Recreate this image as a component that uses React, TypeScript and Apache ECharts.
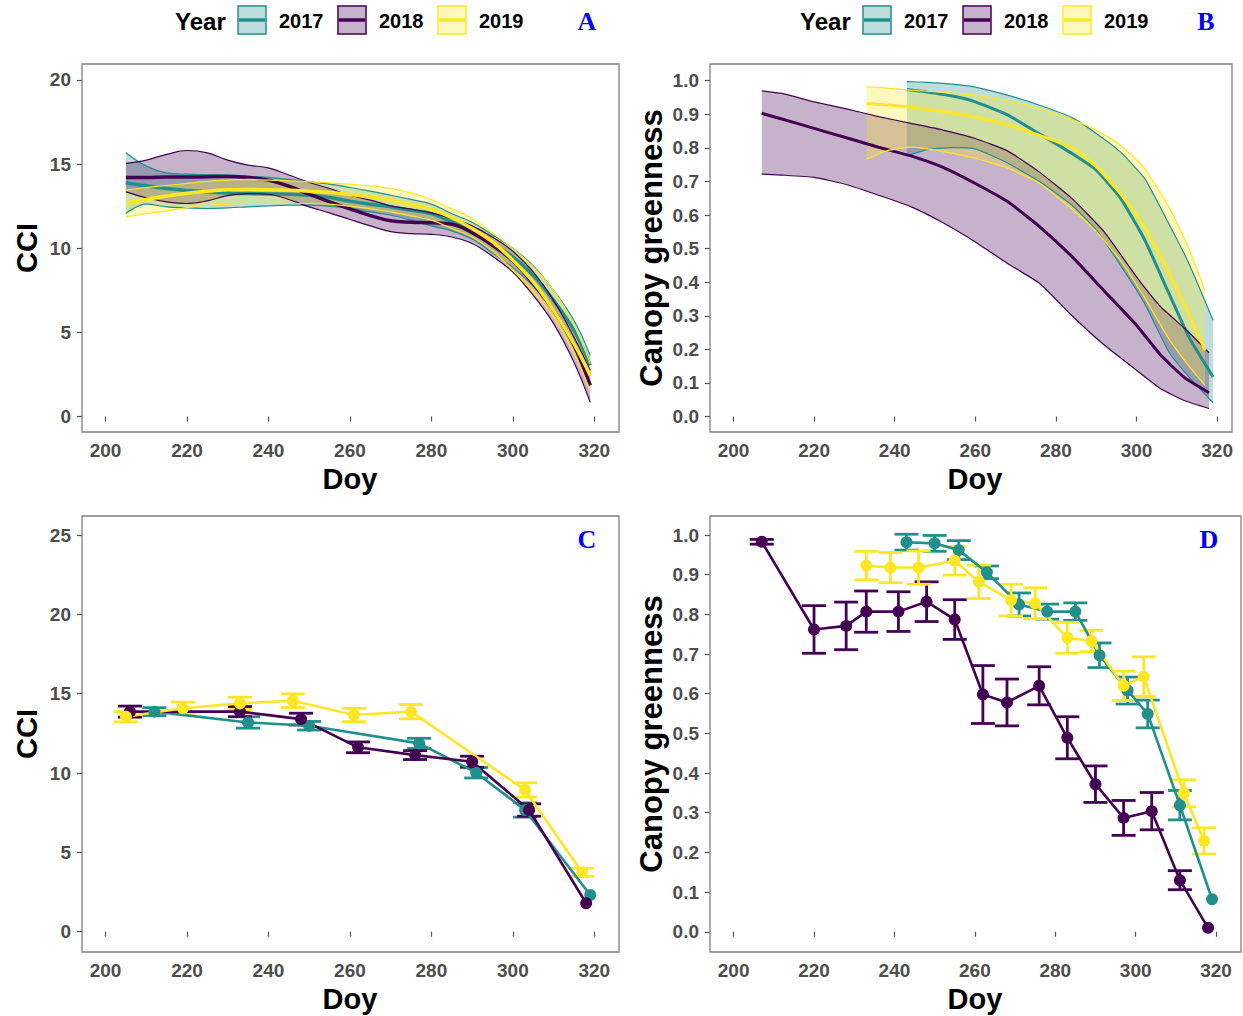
import React, { useEffect, useRef } from "react";
import * as echarts from "echarts";

const YEARS = ["2017", "2018", "2019"];
const COLORS = ["#21908C", "#440154", "#FDE725"];

// ---------- Panel A: smoothed CCI (mean, upper, lower) ----------
const aDoy = [205, 210, 215, 220, 225, 230, 235, 240, 245, 250, 255, 260, 265, 270, 275, 280, 285, 290, 295, 300, 305, 310, 315, 319];
const aMean2017 = [13.89, 13.71, 13.55, 13.43, 13.35, 13.29, 13.25, 13.23, 13.21, 13.15, 13.02, 12.8, 12.62, 12.46, 12.26, 12.06, 11.57, 11.07, 10.28, 9.48, 8.39, 6.9, 5.12, 3.04];
const aUp2017 = [15.67, 14.88, 14.48, 14.4, 14.37, 14.35, 14.29, 14.21, 14.09, 13.95, 13.81, 13.61, 13.39, 13.15, 12.9, 12.62, 12.05, 11.55, 10.8, 10.0, 8.95, 7.5, 5.72, 3.63];
const aLo2017 = [12.06, 12.62, 12.46, 12.4, 12.36, 12.4, 12.46, 12.52, 12.56, 12.56, 12.5, 12.38, 12.16, 11.96, 11.67, 11.33, 11.03, 10.55, 9.72, 8.85, 7.75, 6.25, 4.45, 2.4];
const aMean2018 = [14.21, 14.21, 14.23, 14.23, 14.25, 14.27, 14.21, 14.05, 13.69, 13.21, 12.76, 12.34, 11.94, 11.63, 11.55, 11.51, 11.43, 10.93, 10.18, 9.25, 7.9, 6.31, 4.23, 1.85];
const aUp2018 = [15.04, 15.24, 15.58, 15.81, 15.67, 15.24, 14.94, 14.78, 14.35, 13.91, 13.55, 13.15, 12.86, 12.52, 12.32, 12.1, 11.77, 11.33, 10.67, 9.82, 8.59, 6.9, 4.72, 2.74];
const aLo2018 = [13.35, 13.0, 12.76, 12.66, 12.82, 13.13, 13.25, 13.21, 12.9, 12.46, 12.1, 11.71, 11.33, 10.99, 10.87, 10.83, 10.67, 10.28, 9.52, 8.59, 7.2, 5.52, 3.23, 0.85];
const aMean2019 = [12.66, 12.9, 13.1, 13.27, 13.39, 13.47, 13.49, 13.47, 13.45, 13.39, 13.31, 13.19, 13.06, 12.86, 12.6, 12.32, 11.83, 11.17, 10.38, 9.29, 8.0, 6.31, 4.33, 2.44];
const aUp2019 = [13.45, 13.61, 13.73, 13.85, 13.97, 14.05, 14.09, 14.05, 14.01, 13.95, 13.89, 13.81, 13.71, 13.55, 13.29, 12.9, 12.34, 11.77, 10.91, 9.98, 8.89, 7.5, 5.42, 3.13];
const aLo2019 = [11.87, 12.06, 12.22, 12.42, 12.54, 12.62, 12.66, 12.66, 12.66, 12.66, 12.62, 12.5, 12.34, 12.16, 11.92, 11.67, 11.17, 10.67, 9.84, 8.69, 7.4, 5.91, 3.73, 1.55];

// ---------- Panel B: smoothed canopy greenness ----------
const bDoy2017 = [243, 248, 254, 260, 268, 276, 284, 290, 296, 302, 308, 313, 319];
const bMean2017 = [0.974, 0.966, 0.955, 0.937, 0.898, 0.841, 0.783, 0.734, 0.651, 0.527, 0.368, 0.237, 0.118];
const bUp2017 = [0.997, 0.995, 0.99, 0.981, 0.957, 0.927, 0.89, 0.843, 0.788, 0.709, 0.575, 0.456, 0.287];
const bLo2017 = [0.776, 0.795, 0.801, 0.797, 0.755, 0.699, 0.629, 0.556, 0.451, 0.337, 0.193, 0.118, 0.041];
const bDoy2018 = [207, 212, 220, 228, 236, 244, 252, 260, 268, 276, 284, 292, 300, 306, 312, 318];
const bMean2018 = [0.903, 0.886, 0.858, 0.83, 0.802, 0.776, 0.742, 0.694, 0.64, 0.565, 0.476, 0.374, 0.272, 0.183, 0.115, 0.071];
const bUp2018 = [0.97, 0.962, 0.937, 0.916, 0.893, 0.873, 0.853, 0.828, 0.791, 0.727, 0.649, 0.55, 0.416, 0.327, 0.262, 0.19];
const bLo2018 = [0.722, 0.719, 0.712, 0.691, 0.659, 0.625, 0.577, 0.52, 0.456, 0.396, 0.3, 0.213, 0.138, 0.083, 0.047, 0.024];
const bDoy2019 = [233, 238, 244, 252, 260, 268, 276, 284, 290, 296, 302, 308, 313, 317];
const bMean2019 = [0.932, 0.928, 0.921, 0.908, 0.891, 0.868, 0.837, 0.801, 0.744, 0.664, 0.563, 0.428, 0.304, 0.198];
const bUp2019 = [0.982, 0.978, 0.972, 0.965, 0.957, 0.94, 0.916, 0.884, 0.853, 0.808, 0.739, 0.625, 0.5, 0.376];
const bLo2019 = [0.766, 0.791, 0.802, 0.789, 0.769, 0.74, 0.694, 0.617, 0.551, 0.465, 0.354, 0.232, 0.15, 0.093];

// ---------- Panel C: CCI means and SE ----------
const cDoy2017 = [212, 235, 250, 277, 291, 303, 319];
const cVal2017 = [13.87, 13.19, 12.98, 11.87, 10.02, 7.67, 2.31];
const cSe2017 = [0.25, 0.36, 0.27, 0.32, 0.33, 0.45, 0];
const cDoy2018 = [206, 233, 248, 262, 276, 290, 304, 318];
const cVal2018 = [13.87, 13.87, 13.4, 11.62, 11.13, 10.71, 7.67, 1.79];
const cSe2018 = [0.35, 0.32, 0.37, 0.34, 0.28, 0.35, 0.39, 0];
const cDoy2019 = [205, 219, 233, 246, 261, 275, 303, 317];
const cVal2019 = [13.55, 14.08, 14.39, 14.56, 13.66, 13.87, 8.93, 3.74];
const cSe2019 = [0.32, 0.39, 0.39, 0.43, 0.42, 0.45, 0.45, 0.26];

// ---------- Panel D: canopy greenness means and SE ----------
const dDoy2017 = [243, 250, 256, 263, 271, 278, 285, 291, 298, 303, 311, 319];
const dVal2017 = [0.982, 0.979, 0.962, 0.906, 0.825, 0.807, 0.807, 0.697, 0.608, 0.549, 0.319, 0.082];
const dSe2017 = [0.02, 0.02, 0.024, 0.016, 0.029, 0.019, 0.022, 0.031, 0.034, 0.035, 0.037, 0];
const dDoy2018 = [207, 220, 228, 233, 241, 248, 255, 262, 268, 276, 283, 290, 297, 304, 311, 318];
const dVal2018 = [0.983, 0.762, 0.771, 0.807, 0.807, 0.832, 0.787, 0.598, 0.578, 0.62, 0.489, 0.372, 0.287, 0.304, 0.13, 0.01];
const dSe2018 = [0.006, 0.06, 0.06, 0.052, 0.05, 0.05, 0.05, 0.073, 0.059, 0.048, 0.053, 0.046, 0.044, 0.047, 0.024, 0];
const dDoy2019 = [233, 239, 246, 255, 261, 269, 275, 283, 289, 297, 302, 312, 317];
const dVal2019 = [0.923, 0.918, 0.918, 0.935, 0.882, 0.836, 0.828, 0.741, 0.733, 0.62, 0.643, 0.349, 0.229];
const dSe2019 = [0.036, 0.038, 0.042, 0.036, 0.042, 0.04, 0.039, 0.039, 0.027, 0.037, 0.05, 0.034, 0.033];

// ---------- Tick values ----------
const X_TICKS = [200, 220, 240, 260, 280, 300, 320];
const CCI_TICKS_A = [0, 5, 10, 15, 20];
const CCI_TICKS_C = [0, 5, 10, 15, 20, 25];
const GREEN_TICKS = [0, 0.1, 0.2, 0.3, 0.4, 0.5, 0.6, 0.7, 0.8, 0.9, 1.0];

const SANS = '"Liberation Sans", Arial, sans-serif';
const SERIF = '"Liberation Serif", "Times New Roman", serif';

function rgba(hex: string, a: number) {
  const n = parseInt(hex.slice(1), 16);
  return `rgba(${(n >> 16) & 255},${(n >> 8) & 255},${n & 255},${a})`;
}

function xAxis(gi: number, min: number, max: number) {
  return {
    type: "value",
    gridIndex: gi,
    min,
    max,
    axisLine: { show: false },
    splitLine: { show: false },
    axisTick: { show: true, length: 5, lineStyle: { color: "#555", width: 1.2 }, customValues: X_TICKS },
    axisLabel: { customValues: X_TICKS, margin: 9, fontSize: 19, fontWeight: "bold", color: "#4D4D4D", fontFamily: SANS },
  };
}

function yAxis(gi: number, min: number, max: number, ticks: number[], dec: number) {
  return {
    type: "value",
    gridIndex: gi,
    min,
    max,
    axisLine: { show: false },
    splitLine: { show: false },
    axisTick: { show: true, length: 5, lineStyle: { color: "#555", width: 1.2 }, customValues: ticks },
    axisLabel: {
      customValues: ticks,
      margin: 11,
      fontSize: 19,
      fontWeight: "bold",
      color: "#4D4D4D",
      fontFamily: SANS,
      formatter: (v: number) => v.toFixed(dec),
    },
  };
}

// Ribbon: lower edge + stacked (upper - lower) so the area fills between the edges.
// Data columns are [value, doy] with encode {x: 1, y: 0} so that the stack applies to the value.
function bandSeries(gi: number, doy: number[], mean: number[], up: number[], lo: number[], color: string, key: string, smooth: number, meanWidth: number) {
  return [
    {
      type: "line",
      xAxisIndex: gi,
      yAxisIndex: gi,
      stack: key,
      data: doy.map((d, i) => [lo[i], d]),
      encode: { x: 1, y: 0 },
      symbol: "none",
      smooth,
      silent: true,
      lineStyle: { color, width: 1.2 },
    },
    {
      type: "line",
      xAxisIndex: gi,
      yAxisIndex: gi,
      stack: key,
      data: doy.map((d, i) => [up[i] - lo[i], d]),
      encode: { x: 1, y: 0 },
      symbol: "none",
      smooth,
      silent: true,
      lineStyle: { color, width: 1.2 },
      areaStyle: { color: rgba(color, 0.3), opacity: 1 },
    },
    {
      type: "line",
      xAxisIndex: gi,
      yAxisIndex: gi,
      data: doy.map((d, i) => [d, mean[i]]),
      symbol: "none",
      smooth,
      silent: true,
      lineStyle: { color, width: meanWidth },
    },
  ];
}

function pointSeries(gi: number, doy: number[], val: number[], color: string) {
  return {
    type: "line",
    xAxisIndex: gi,
    yAxisIndex: gi,
    data: doy.map((d, i) => [d, val[i]]),
    symbol: "circle",
    symbolSize: 12,
    showSymbol: true,
    silent: true,
    lineStyle: { color, width: 2.6 },
    itemStyle: { color },
  };
}

function errSeries(gi: number, doy: number[], val: number[], se: number[], color: string) {
  return {
    type: "custom",
    xAxisIndex: gi,
    yAxisIndex: gi,
    silent: true,
    data: doy.map((d, i) => [d, val[i] - se[i], val[i] + se[i]]),
    encode: { x: 0, y: [1, 2] },
    renderItem: (params: any, api: any) => {
      const x = api.value(0);
      const lo = api.value(1);
      const hi = api.value(2);
      if (hi - lo <= 0) return { type: "group", children: [] };
      const a = api.coord([x, lo]);
      const b = api.coord([x, hi]);
      const h = 12;
      const st = { stroke: color, lineWidth: 2.8 };
      return {
        type: "group",
        children: [
          { type: "line", shape: { x1: a[0], y1: a[1], x2: b[0], y2: b[1] }, style: st },
          { type: "line", shape: { x1: a[0] - h, y1: a[1], x2: a[0] + h, y2: a[1] }, style: st },
          { type: "line", shape: { x1: b[0] - h, y1: b[1], x2: b[0] + h, y2: b[1] }, style: st },
        ],
      };
    },
  };
}

function legendGraphics(dx: number) {
  const els: any[] = [];
  els.push({
    type: "text",
    x: 175 + dx,
    y: 21,
    style: { text: "Year", fontSize: 24, fontWeight: "bold", fontFamily: SANS, fill: "#000", align: "left", verticalAlign: "middle" },
  });
  YEARS.forEach((yr, i) => {
    const kx = 238 + dx + i * 100;
    els.push({
      type: "rect",
      shape: { x: kx, y: 6, width: 28, height: 28 },
      style: { fill: rgba(COLORS[i], 0.3), stroke: COLORS[i], lineWidth: 1.5 },
    });
    els.push({
      type: "line",
      shape: { x1: kx + 1, y1: 20, x2: kx + 27, y2: 20 },
      style: { stroke: COLORS[i], lineWidth: 3.5 },
    });
    els.push({
      type: "text",
      x: kx + 41,
      y: 21,
      style: { text: yr, fontSize: 20, fontWeight: "bold", fontFamily: SANS, fill: "#000", align: "left", verticalAlign: "middle" },
    });
  });
  return els;
}

function txt(text: string, x: number, y: number, size: number, rot = 0, extra: any = {}) {
  return {
    type: "text",
    x,
    y,
    rotation: rot,
    style: { text, fontSize: size, fontWeight: "bold", fontFamily: SANS, fill: "#000", align: "center", verticalAlign: "middle", ...extra },
  };
}

function buildOption() {
  const grids = [
    { left: 82, top: 64, width: 537, height: 368 },
    { left: 710, top: 64, width: 522, height: 368 },
    { left: 82, top: 516, width: 537, height: 436 },
    { left: 710, top: 516, width: 531, height: 436 },
  ].map((g) => ({ ...g, show: true, borderColor: "#808080", borderWidth: 1.3, backgroundColor: "#fff", containLabel: false }));

  const series: any[] = [
    ...bandSeries(0, aDoy, aMean2017, aUp2017, aLo2017, COLORS[0], "a17", 0.4, 3.5),
    ...bandSeries(0, aDoy, aMean2018, aUp2018, aLo2018, COLORS[1], "a18", 0.4, 3.5),
    ...bandSeries(0, aDoy, aMean2019, aUp2019, aLo2019, COLORS[2], "a19", 0.4, 3.5),
    ...bandSeries(1, bDoy2017, bMean2017, bUp2017, bLo2017, COLORS[0], "b17", 0.15, 3),
    ...bandSeries(1, bDoy2018, bMean2018, bUp2018, bLo2018, COLORS[1], "b18", 0.15, 3),
    ...bandSeries(1, bDoy2019, bMean2019, bUp2019, bLo2019, COLORS[2], "b19", 0.15, 3),
    pointSeries(2, cDoy2017, cVal2017, COLORS[0]),
    pointSeries(2, cDoy2018, cVal2018, COLORS[1]),
    pointSeries(2, cDoy2019, cVal2019, COLORS[2]),
    errSeries(2, cDoy2017, cVal2017, cSe2017, COLORS[0]),
    errSeries(2, cDoy2018, cVal2018, cSe2018, COLORS[1]),
    errSeries(2, cDoy2019, cVal2019, cSe2019, COLORS[2]),
    pointSeries(3, dDoy2017, dVal2017, COLORS[0]),
    pointSeries(3, dDoy2018, dVal2018, COLORS[1]),
    pointSeries(3, dDoy2019, dVal2019, COLORS[2]),
    errSeries(3, dDoy2017, dVal2017, dSe2017, COLORS[0]),
    errSeries(3, dDoy2018, dVal2018, dSe2018, COLORS[1]),
    errSeries(3, dDoy2019, dVal2019, dSe2019, COLORS[2]),
  ];

  const letterStyle = { fontFamily: SERIF, fill: "#0000FF" };
  const graphic: any[] = [
    ...legendGraphics(0),
    ...legendGraphics(625),
    txt("A", 587, 21, 26, 0, letterStyle),
    txt("B", 1206, 21, 26, 0, letterStyle),
    txt("C", 587, 539, 26, 0, letterStyle),
    txt("D", 1209, 539, 26, 0, letterStyle),
    txt("Doy", 350, 479, 29),
    txt("Doy", 975, 479, 29),
    txt("Doy", 350, 999, 29),
    txt("Doy", 975, 999, 29),
    txt("CCI", 27, 248, 29, Math.PI / 2),
    txt("CCI", 27, 734, 29, Math.PI / 2),
    txt("Canopy greenness", 651, 248, 31, Math.PI / 2),
    txt("Canopy greenness", 651, 734, 31, Math.PI / 2),
  ];

  return {
    animation: false,
    backgroundColor: "#fff",
    grid: grids,
    xAxis: [xAxis(0, 194.23, 326.06), xAxis(1, 194.17, 323.7), xAxis(2, 194.23, 326.06), xAxis(3, 194.13, 326.2)],
    yAxis: [
      yAxis(0, -0.92, 20.95, CCI_TICKS_A, 0),
      yAxis(1, -0.046, 1.0497, GREEN_TICKS, 1),
      yAxis(2, -1.28, 26.2, CCI_TICKS_C, 0),
      yAxis(3, -0.051, 1.048, GREEN_TICKS, 1),
    ],
    series,
    graphic,
  };
}

export default function App() {
  const ref = useRef<HTMLDivElement>(null);
  useEffect(() => {
    document.body.style.margin = "0";
    document.body.style.overflow = "hidden";
    const chart = echarts.init(ref.current as HTMLDivElement, null, { renderer: "svg", width: 1243, height: 1016 });
    chart.setOption(buildOption() as any);
    return () => {
      chart.dispose();
    };
  }, []);
  return <div ref={ref} style={{ width: 1243, height: 1016 }} />;
}
